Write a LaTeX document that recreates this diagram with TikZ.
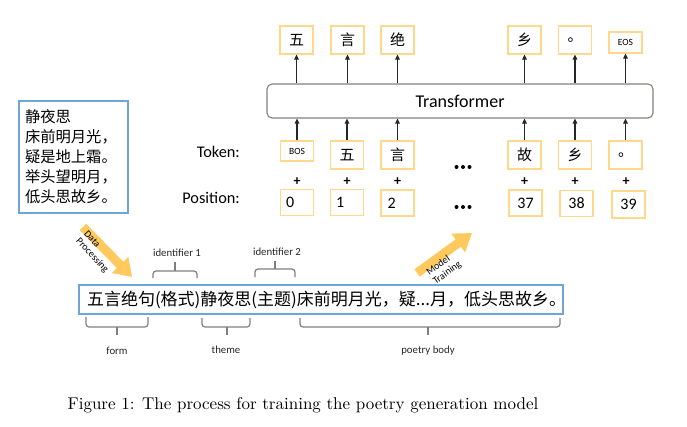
\documentclass[tikz,border=0pt]{standalone}
\usepackage{fontspec}
\usepackage{graphicx}
\newfontfamily\cjkfont{Noto Sans CJK SC}
\newfontfamily\calfont{Carlito}
\usetikzlibrary{arrows.meta}
\definecolor{boxorange}{HTML}{FFD88C}
\definecolor{boxblue}{HTML}{6FA6D9}
\definecolor{trgray}{HTML}{85807B}
\definecolor{arrowyellow}{HTML}{FFC95E}
\definecolor{bracegray}{HTML}{7F7F7F}
\begin{document}
\begin{tikzpicture}[x=1pt,y=-1pt,
  obox/.style={draw=boxorange,line width=1.1pt,minimum width=33pt,minimum height=28pt,inner sep=0pt,font=\cjkfont\fontsize{15}{15}\selectfont},
  pbox/.style={draw=boxorange,line width=1.1pt,minimum width=33pt,minimum height=26pt,inner sep=0pt,font=\calfont\fontsize{16}{16}\selectfont},
  small/.style={obox,minimum height=21pt,font=\calfont\fontsize{9.5}{9.5}\selectfont},
  lab/.style={font=\calfont\fontsize{10.8}{12}\selectfont,text=black!85,inner sep=0pt},
  bigarrow/.style={line width=9pt,draw=arrowyellow,-{Triangle[length=17pt,width=22pt]}},
  tip/.style={-{Triangle[length=5pt,width=4.5pt]},line width=1.1pt,black!85},
  brc/.style={draw=bracegray,line width=1.2pt,rounded corners=3pt},
  plus/.style={font=\calfont\bfseries\fontsize{14}{14}\selectfont,inner sep=0pt}]
\useasboundingbox (0,0) rectangle (687,426);
% poem box
\node[draw=boxblue,line width=1.1pt,minimum width=109pt,minimum height=112pt,text width=97pt,inner xsep=6pt,align=left,
  font=\cjkfont\fontsize{15.3}{20}\selectfont] (poem) at (73.5,157) {静夜思\\床前明月光，\\疑是地上霜。\\举头望明月，\\低头思故乡。};
% transformer
\node[draw=trgray,line width=1.1pt,rounded corners=5pt,minimum width=386pt,minimum height=34pt,inner sep=0pt,
  font=\calfont\fontsize{18}{18}\selectfont] (tr) at (460,101) {Transformer};
% output boxes
\node[obox] (o1) at (296.5,40) {五};
\node[obox] (o2) at (347.5,40) {言};
\node[obox] (o3) at (397.5,40) {绝};
\node[obox] (o4) at (524.5,40) {乡};
\node[obox] (o5) at (575,40) {。};
\node[small] (o6) at (625.5,42.5) {EOS};
% token boxes
\node[small,minimum height=20pt] (t1) at (297,151) {BOS};
\node[obox] (t2) at (347,155) {五};
\node[obox] (t3) at (397.5,155) {言};
\node[obox] (t4) at (524.5,155) {故};
\node[obox] (t5) at (575,155) {乡};
\node[obox] (t6) at (625.5,155) {。};
% position boxes
\node[pbox] (p1) at (297,202.5) {};
\node[pbox] (p2) at (347,202.5) {};
\node[pbox] (p3) at (397.5,203) {};
\node[pbox] (p4) at (525.5,203) {37};
\node[pbox] (p5) at (576.5,203.5) {38};
\node[pbox,minimum height=27pt] (p6) at (628.5,204.5) {39};
\node[font=\calfont\fontsize{16}{16}\selectfont,anchor=west,inner sep=0pt] (n0) at ([xshift=6pt]p1.west) {0};
\node[font=\calfont\fontsize{16}{16}\selectfont,anchor=west,inner sep=0pt] (n1) at ([xshift=6pt]p2.west) {1};
\node[font=\calfont\fontsize{16}{16}\selectfont,anchor=west,inner sep=0pt] (n2) at ([xshift=7pt]p3.west) {2};
% row labels
\node[font=\calfont\fontsize{16.3}{16}\selectfont,anchor=east,inner sep=0pt] (tok) at (240,152) {Token:};
\node[font=\calfont\fontsize{16.3}{16}\selectfont,anchor=east,inner sep=0pt] (pos) at (240,198) {Position:};
% plus signs
\foreach \x/\n in {297/1,347/2,397.5/3,524.5/4,575/5,626/6}
  \node[plus] (plus\n) at (\x,182) {+};
% dots
\foreach \y in {167,207}{
  \fill (456.5,\y) circle (2pt) (463,\y) circle (2pt) (469.5,\y) circle (2pt);}
% arrows
\foreach \i in {1,...,6}{
  \draw[tip] (t\i.north) -- (t\i.north |- tr.south);
  \draw[tip] (o\i.south |- tr.north) -- (o\i.south);}
% bottom box
\node[draw=boxblue,line width=1.1pt,minimum width=484pt,minimum height=29pt,text width=468pt,inner xsep=8pt,align=left,
  font=\cjkfont\fontsize{17}{17}\selectfont] (seq) at (321,299.5) {五言绝句(格式)静夜思(主题)床前明月光，疑...月，低头思故乡。};
% braces
\draw[brc] (153,278) -- (153,271) -- (197,271) -- (197,278);
\draw[brc] (175,271) -- (175,262);
\draw[brc] (255,277) -- (255,269) -- (295,269) -- (295,277);
\draw[brc] (275,269) -- (275,261);
\draw[brc] (86,317) -- (86,327) -- (148,327) -- (148,317);
\draw[brc] (117,327) -- (117,335);
\draw[brc] (202,318) -- (202,327) -- (250,327) -- (250,318);
\draw[brc] (227,327) -- (227,335);
\draw[brc] (300,318) -- (300,327) -- (560,327) -- (560,318);
\draw[brc] (428,327) -- (428,335);
\node[lab] (id1) at (177,253) {identifier 1};
\node[lab] (id2) at (277,252) {identifier 2};
\node[lab] (form) at (117,351) {form};
\node[lab] (theme) at (226,350) {theme};
\node[lab] (body) at (428,351) {poetry body};
% yellow arrows
\coordinate (dpA) at (83,227);
\coordinate (dpB) at (132,277);
\draw[bigarrow] (dpA) -- (dpB);
\node[font=\calfont\fontsize{10}{11}\selectfont,rotate=-47,align=left,inner sep=0pt] (dp) at (96,252) {Data\\Processing};
\coordinate (mtA) at (417,273);
\coordinate (mtB) at (472,233);
\draw[bigarrow] (mtA) -- (mtB);
\node[font=\calfont\fontsize{10}{11}\selectfont,rotate=36,align=left,inner sep=0pt] (mt) at (444,268.5) {Model\\Training};
% caption
\node[inner sep=0pt] (cap) at (303,405) {\scalebox{1.7}{\fontsize{10}{12}\selectfont Figure 1: The process for training the poetry generation model}};
\end{tikzpicture}
\end{document}
